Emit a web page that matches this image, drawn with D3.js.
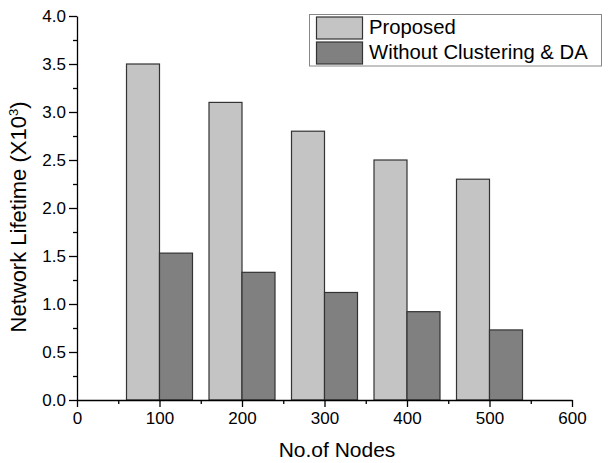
<!DOCTYPE html>
<html><head><meta charset="utf-8">
<script src="https://cdn.jsdelivr.net/npm/d3@7"></script>
<style>body{margin:0;background:#fff}svg{display:block}text{font-family:"Liberation Sans",Arial,sans-serif;fill:#000}</style>
</head><body><svg id="c" width="610" height="463"></svg>
<script>
const nodes = [100, 200, 300, 400, 500];
const proposed = [3.5, 3.1, 2.8, 2.5, 2.3];
const withoutDA = [1.53, 1.33, 1.12, 0.92, 0.73];
const seriesNames = ["Proposed", "Without Clustering & DA"];
const seriesColors = ["#c4c4c4", "#808080"];
const xTicks = [0, 100, 200, 300, 400, 500, 600];
const xMinor = [50, 150, 250, 350, 450, 550];
const yTicks = [0, 0.5, 1, 1.5, 2, 2.5, 3, 3.5, 4];
const yMinor = [0.25, 0.75, 1.25, 1.75, 2.25, 2.75, 3.25, 3.75];

const svg = d3.select("#c");
const x = d3.scaleLinear().domain([0, 600]).range([77, 572]);
const y = d3.scaleLinear().domain([0, 4]).range([400, 16]);
const barW = 40;

// bars
const series = [proposed, withoutDA];
series.forEach((vals, si) => {
  svg.append("g").selectAll("rect").data(vals).join("rect")
    .attr("x", (d, i) => x(nodes[i] + (si === 0 ? -barW : 0)))
    .attr("width", (d, i) => x(nodes[i] + barW) - x(nodes[i]))
    .attr("y", d => y(d))
    .attr("height", d => y(0) - y(d))
    .attr("fill", seriesColors[si])
    .attr("stroke", "#333").attr("stroke-width", 1.2);
});

// x axis
svg.append("g").attr("transform", `translate(0,${y(0)})`)
  .call(d3.axisBottom(x).tickValues(xTicks).tickFormat(d3.format("d")).tickSize(7).tickPadding(5).tickSizeOuter(0));
svg.append("g").attr("transform", `translate(0,${y(0)})`)
  .call(d3.axisBottom(x).tickValues(xMinor).tickFormat("").tickSize(4).tickSizeOuter(0))
  .select(".domain").remove();
// y axis
svg.append("g").attr("transform", `translate(${x(0)},0)`)
  .call(d3.axisLeft(y).tickValues(yTicks).tickFormat(d3.format(".1f")).tickSize(8).tickPadding(3).tickSizeOuter(0));
svg.append("g").attr("transform", `translate(${x(0)},0)`)
  .call(d3.axisLeft(y).tickValues(yMinor).tickFormat("").tickSize(4).tickSizeOuter(0))
  .select(".domain").remove();

svg.selectAll(".tick text").attr("font-size", 17).attr("font-family", "Liberation Sans, Arial, sans-serif").attr("fill", "#000");
svg.selectAll(".domain, .tick line").attr("stroke", "#000").attr("stroke-width", 1.3);

// axis titles
svg.append("text").attr("x", 337).attr("y", 457).attr("text-anchor", "middle")
  .attr("font-size", 21).text("No.of Nodes");
const yt = svg.append("text").attr("transform", "translate(26,217) rotate(-90)")
  .attr("text-anchor", "middle").attr("font-size", 22);
yt.append("tspan").text("Network Lifetime (X10");
yt.append("tspan").attr("font-size", 13).attr("dy", -8).text("3");
yt.append("tspan").attr("dy", 8).text(")");

// legend
svg.append("rect").attr("x", 309.5).attr("y", 14.5).attr("width", 292).attr("height", 51.5)
  .attr("fill", "#fff").attr("stroke", "#888").attr("stroke-width", 1);
seriesNames.forEach((n, i) => {
  svg.append("rect").attr("x", 316.5).attr("y", 17 + i * 25).attr("width", 46).attr("height", 22)
    .attr("fill", seriesColors[i]).attr("stroke", "#333").attr("stroke-width", 1.2);
  svg.append("text").attr("x", 369).attr("y", 33.5 + i * 25).attr("font-size", 20.3).text(n);
});
</script></body></html>
